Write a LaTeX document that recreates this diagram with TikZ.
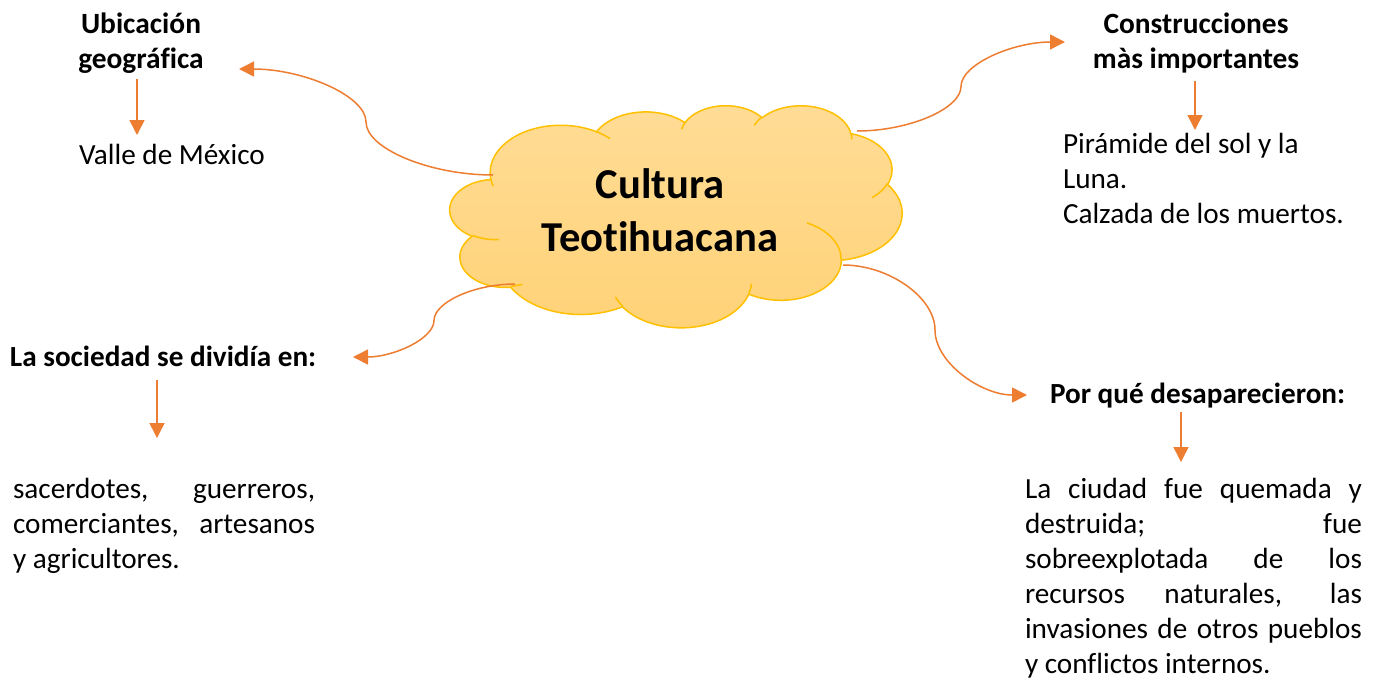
\documentclass[tikz,border=0pt]{standalone}
\usepackage{fontspec}
\setmainfont{Carlito}[Ligatures={NoCommon}]
\usetikzlibrary{arrows.meta}
\definecolor{connorange}{HTML}{ED7D31}
\definecolor{cloudline}{HTML}{FFC000}
\definecolor{cloudtop}{HTML}{FFDC96}
\definecolor{cloudbot}{HTML}{FFD277}
% computes parametric start angle and delta for a DrawingML arcTo
\newcommand\cloudarcdef[5]{%
  \pgfmathsetmacro\cloudtmpa{atan2(#2*sin(#4),#3*cos(#4))}%
  \pgfmathsetmacro\cloudtmpb{atan2(#2*sin(#4+#5),#3*cos(#4+#5))}%
  \pgfmathsetmacro\cloudtmpd{\cloudtmpb-\cloudtmpa}%
  \pgfmathsetmacro\cloudtmpd{(#5>0)*((\cloudtmpd<0)*360+\cloudtmpd)+(#5<0)*((\cloudtmpd>0)*(-360)+\cloudtmpd)}%
  \expandafter\xdef\csname CloudS#1\endcsname{\cloudtmpa}%
  \expandafter\xdef\csname CloudD#1\endcsname{\cloudtmpd}%
}
\begin{document}
\begin{tikzpicture}[x=0.5pt,y=-0.5pt,
  link/.style={draw=connorange, line width=0.75pt, -{Triangle[length=7.5pt,width=7.5pt]}},
  body/.style={font=\fontsize{14.6}{17.5}\selectfont, inner sep=0pt, outer sep=0pt},
  headbig/.style={font=\fontsize{14.7}{17.5}\selectfont\bfseries, inner sep=0pt, outer sep=0pt},
  headsmall/.style={font=\fontsize{14.6}{17.5}\selectfont\bfseries, inner sep=0pt, outer sep=0pt},
  titletext/.style={font=\fontsize{21.3}{26.7}\selectfont\bfseries, inner sep=0pt, outer sep=0pt},
  cloudedge/.style={draw=cloudline, line width=0.75pt}]
\useasboundingbox (0,0) rectangle (1382,681);
% outline arcs
\cloudarcdef{A}{6.753}{9.190}{-190.4875}{123.7805}
\cloudarcdef{B}{5.333}{7.267}{-144.1024}{89.9452}
\cloudarcdef{C}{4.365}{5.945}{-145.8079}{99.7230}
\cloudarcdef{D}{4.857}{6.595}{-130.9861}{117.2417}
\cloudarcdef{E}{5.333}{7.273}{-78.7089}{109.0269}
\cloudarcdef{F}{6.775}{9.220}{-46.2673}{130.2690}
\cloudarcdef{G}{5.785}{7.867}{0.6250}{114.0333}
\cloudarcdef{H}{6.752}{9.215}{22.4516}{115.1726}
\cloudarcdef{I}{7.720}{10.543}{66.2426}{75.7110}
\cloudarcdef{J}{4.360}{5.918}{-274.9421}{146.7356}
\cloudarcdef{K}{4.345}{5.945}{-246.8285}{152.5189}
% interior arcs
\cloudarcdef{a}{4.345}{5.945}{86.7420}{26.4295}
\cloudarcdef{b}{4.360}{5.918}{73.6105}{11.4475}
\cloudarcdef{c}{6.752}{9.215}{137.6242}{14.0811}
\cloudarcdef{d}{6.752}{9.215}{6.4533}{15.9984}
\cloudarcdef{e}{5.785}{7.867}{-70.2924}{70.9174}
\cloudarcdef{f}{5.333}{7.273}{30.3180}{27.7515}
\cloudarcdef{g}{4.857}{6.595}{-13.7443}{14.8589}
\cloudarcdef{h}{4.857}{6.595}{-149.1815}{18.1954}
\cloudarcdef{i}{4.365}{5.945}{-163.4943}{17.6864}
\cloudarcdef{j}{6.753}{9.190}{-66.7070}{12.3194}
\cloudarcdef{k}{6.753}{9.190}{157.6544}{11.8582}
\begin{scope}[shift={(450,105)}, x=5.2315pt, y=-2.5694pt]
\path[cloudedge, top color=cloudtop, bottom color=cloudbot]
  (3.900,14.370)
  arc[start angle=\CloudSA, delta angle=\CloudDA, x radius=6.753, y radius=9.190]
  arc[start angle=\CloudSB, delta angle=\CloudDB, x radius=5.333, y radius=7.267]
  arc[start angle=\CloudSC, delta angle=\CloudDC, x radius=4.365, y radius=5.945]
  arc[start angle=\CloudSD, delta angle=\CloudDD, x radius=4.857, y radius=6.595]
  arc[start angle=\CloudSE, delta angle=\CloudDE, x radius=5.333, y radius=7.273]
  arc[start angle=\CloudSF, delta angle=\CloudDF, x radius=6.775, y radius=9.220]
  arc[start angle=\CloudSG, delta angle=\CloudDG, x radius=5.785, y radius=7.867]
  arc[start angle=\CloudSH, delta angle=\CloudDH, x radius=6.752, y radius=9.215]
  arc[start angle=\CloudSI, delta angle=\CloudDI, x radius=7.720, y radius=10.543]
  arc[start angle=\CloudSJ, delta angle=\CloudDJ, x radius=4.360, y radius=5.918]
  arc[start angle=\CloudSK, delta angle=\CloudDK, x radius=4.345, y radius=5.945]
  -- cycle;
\draw[cloudedge] (4.693,26.177) arc[start angle=\CloudSa, delta angle=\CloudDa, x radius=4.345, y radius=5.945];
\draw[cloudedge] (6.928,34.899) arc[start angle=\CloudSb, delta angle=\CloudDb, x radius=4.360, y radius=5.918];
\draw[cloudedge] (16.478,39.090) arc[start angle=\CloudSc, delta angle=\CloudDc, x radius=6.752, y radius=9.215];
\draw[cloudedge] (28.827,34.751) arc[start angle=\CloudSd, delta angle=\CloudDd, x radius=6.752, y radius=9.215];
\draw[cloudedge] (34.129,22.954) arc[start angle=\CloudSe, delta angle=\CloudDe, x radius=5.785, y radius=7.867];
\draw[cloudedge] (41.798,15.354) arc[start angle=\CloudSf, delta angle=\CloudDf, x radius=5.333, y radius=7.273];
\draw[cloudedge] (38.324,5.426) arc[start angle=\CloudSg, delta angle=\CloudDg, x radius=4.857, y radius=6.595];
\draw[cloudedge] (29.078,3.952) arc[start angle=\CloudSh, delta angle=\CloudDh, x radius=4.857, y radius=6.595];
\draw[cloudedge] (22.141,4.720) arc[start angle=\CloudSi, delta angle=\CloudDi, x radius=4.365, y radius=5.945];
\draw[cloudedge] (14.000,5.192) arc[start angle=\CloudSj, delta angle=\CloudDj, x radius=6.753, y radius=9.190];
\draw[cloudedge] (4.127,15.789) arc[start angle=\CloudSk, delta angle=\CloudDk, x radius=6.753, y radius=9.190];
\end{scope}
% title
\node[titletext, text width=170pt, align=flush center, anchor=base] (title) at (660,198) {Cultura\\Teotihuacana};
% headings and texts
\node[headbig, text width=90pt, align=flush center, anchor=base] (ubic) at (141,33) {Ubicación\\geográfica};
\node[body, anchor=base west] (valle) at (79,164) {Valle de México};
\node[headbig, text width=120pt, align=flush center, anchor=base] (constr) at (1196,33) {Construcciones\\màs importantes};
\node[body, text width=150pt, align=flush left, anchor=base west] (piram) at (1063,153) {Pirámide del sol y la\\Luna.\\Calzada de los muertos.};
\node[headsmall, anchor=base west] (soc) at (10,366) {La sociedad se dividía en:};
\node[body, text width=151pt, align=flush left, anchor=base west] (socp) at (13,498)
  {\makebox[151pt][s]{sacerdotes, guerreros,}\\\makebox[151pt][s]{comerciantes, artesanos}\\y agricultores.};
\node[headsmall, anchor=base west] (porq) at (1050,403) {Por qué desaparecieron:};
\node[body, text width=168.5pt, align=flush left, anchor=base west] (porqp) at (1025,498)
  {\makebox[168.5pt][s]{La ciudad fue quemada y}\\\makebox[168.5pt][s]{destruida; fue}\\\makebox[168.5pt][s]{sobreexplotada de los}\\\makebox[168.5pt][s]{recursos naturales, las}\\\makebox[168.5pt][s]{invasiones de otros pueblos}\\y conflictos internos.};
% connector end points
\coordinate (s1) at (493,175); \coordinate (e1) at (239,69);
\coordinate (s2) at (857,131); \coordinate (e2) at (1065,42);
\coordinate (s3) at (515,284); \coordinate (e3) at (353,357);
\coordinate (s4) at (843,265); \coordinate (e4) at (1027,395);
\draw[link] (s1) .. controls (429.5,175) and (366,148.5) .. (366,122) .. controls (366,95.5) and (302.5,69) .. (e1);
\draw[link] (s2) .. controls (909,131) and (961,108.75) .. (961,86.5) .. controls (961,64.25) and (1013,42) .. (e2);
\draw[link] (s3) .. controls (474.5,284) and (434,302.25) .. (434,320.5) .. controls (434,338.75) and (393.5,357) .. (e3);
\draw[link] (s4) .. controls (889,265) and (935,297.5) .. (935,330) .. controls (935,362.5) and (981,395) .. (e4);
% vertical arrows
\coordinate (u1) at (137,79);   \coordinate (u2) at (137,135);
\coordinate (k1) at (1195,81);  \coordinate (k2) at (1195,130);
\coordinate (q1) at (157,380);  \coordinate (q2) at (157,438);
\coordinate (p1) at (1181,412); \coordinate (p2) at (1181,462);
\draw[link] (u1) -- (u2);
\draw[link] (k1) -- (k2);
\draw[link] (q1) -- (q2);
\draw[link] (p1) -- (p2);
\end{tikzpicture}
\end{document}
